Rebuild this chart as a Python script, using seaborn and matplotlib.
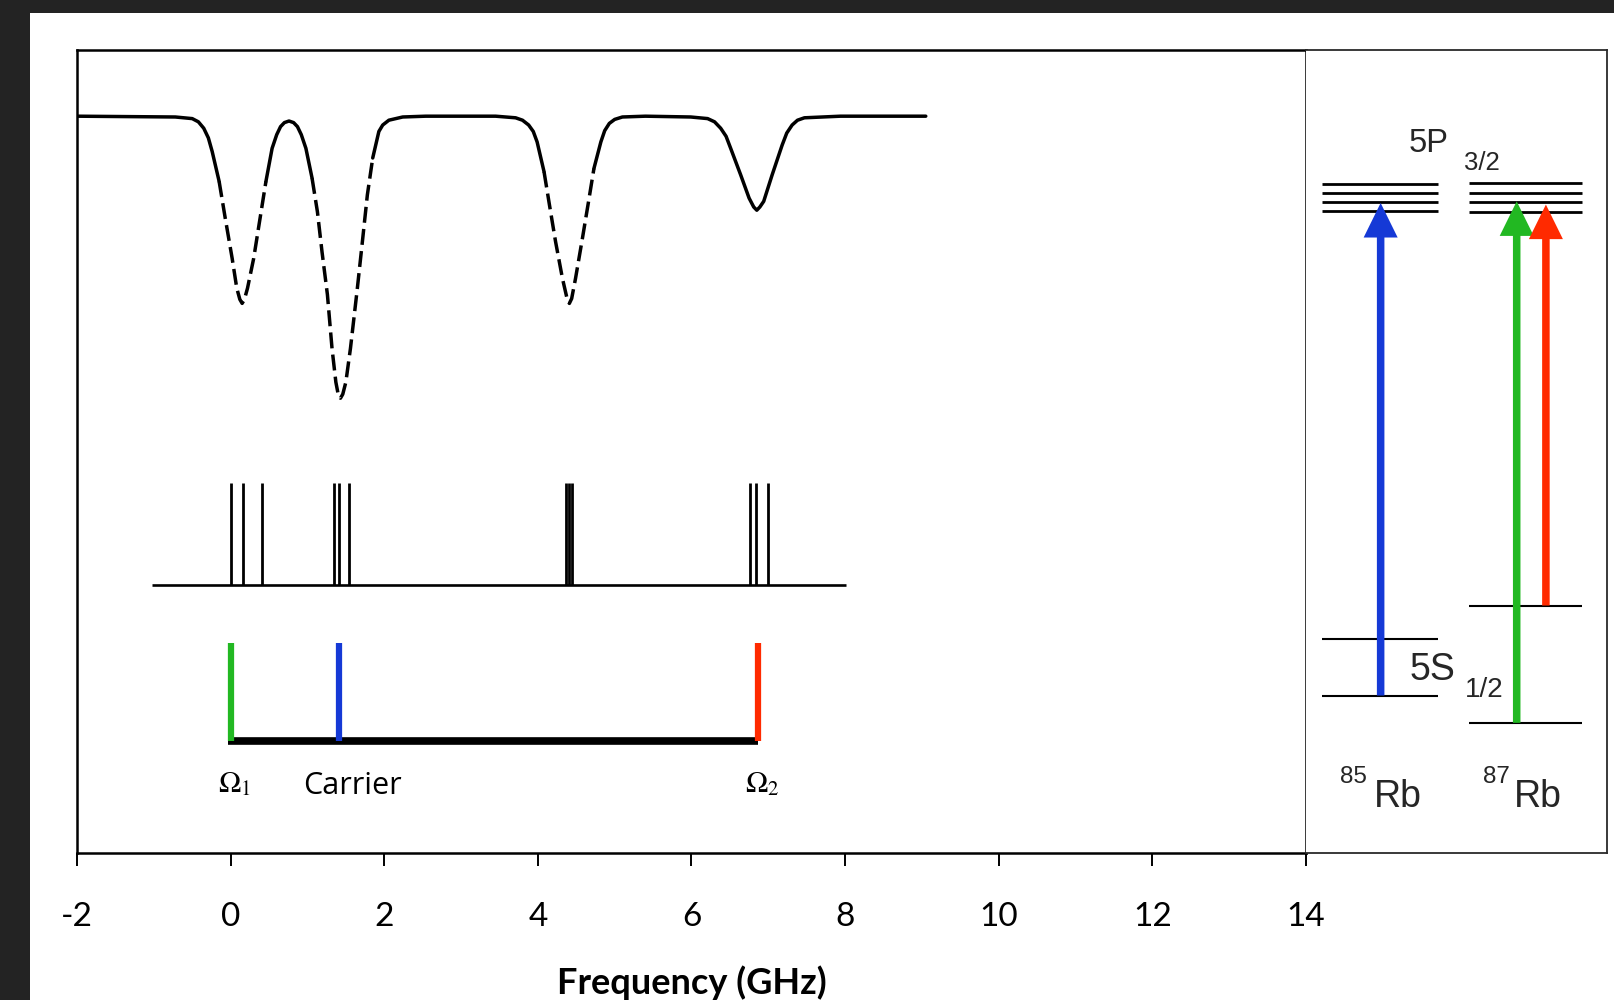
import numpy as np
import pandas as pd
import matplotlib
matplotlib.use("Agg")
import matplotlib.pyplot as plt
from matplotlib.patches import Rectangle
import seaborn as sns

# ---------------- data ----------------
# absorption spectrum: frequency (GHz) and transmission (arb. units)
spec_freq = [-2.00, -0.72, -0.50, -0.42, -0.35, -0.29, -0.24, -0.15, -0.07, 0.02,
             0.08, 0.12, 0.15, 0.18, 0.22, 0.30, 0.39, 0.46, 0.54, 0.60,
             0.65, 0.70, 0.76, 0.82, 0.87, 0.92, 0.98, 1.06, 1.13, 1.19,
             1.26, 1.32, 1.37, 1.40, 1.43, 1.46, 1.50, 1.56, 1.65, 1.72,
             1.78, 1.85, 1.93, 1.98, 2.06, 2.24, 2.54,
             3.45, 3.71, 3.80, 3.88, 3.94, 3.99, 4.08, 4.15, 4.23, 4.32,
             4.38, 4.41, 4.44, 4.49, 4.58, 4.66, 4.73, 4.82, 4.87, 4.93,
             5.00, 5.10, 5.40,
             5.99, 6.21, 6.30, 6.38, 6.45, 6.51, 6.64, 6.75, 6.81, 6.85,
             6.89, 6.94, 7.05, 7.18, 7.24, 7.31, 7.38, 7.47, 7.94, 9.05]
spec_trans = [91.7, 91.6, 91.4, 91.0, 90.2, 89.0, 87.3, 83.6, 79.0, 74.0,
              70.3, 68.9, 68.4, 68.9, 70.3, 74.0, 79.4, 83.6, 87.7, 89.4,
              90.4, 90.9, 91.1, 90.9, 90.4, 89.4, 87.7, 84.0, 79.8, 74.8,
              69.5, 62.8, 58.6, 57.1, 56.6, 57.1, 58.6, 62.8, 70.3, 76.5,
              81.9, 86.5, 89.8, 90.6, 91.2, 91.6, 91.7,
              91.7, 91.5, 91.2, 90.6, 89.8, 88.5, 84.8, 80.7, 76.1, 71.5,
              69.0, 68.4, 69.0, 71.5, 76.5, 81.1, 85.2, 88.5, 89.9, 90.8,
              91.3, 91.6, 91.7,
              91.6, 91.4, 91.0, 90.2, 89.2, 87.7, 84.4, 81.5, 80.4, 80.0,
              80.4, 81.1, 84.4, 88.1, 89.6, 90.6, 91.2, 91.5, 91.7, 91.7]
dash_below = 86.6          # dashed where the line dips below this level
dash_max_freq = 5.5        # ... for the first three dips only

# hyperfine stick spectrum (GHz)
stick_freq = [0.00, 0.16, 0.41, 1.35, 1.41, 1.54, 4.37, 4.40, 4.45, 6.76, 6.84, 6.99]
stick_base, stick_top = 33.35, 46.0
stick_span = (-1.02, 8.01)

# modulation: Omega1, carrier, Omega2
mod_freq = [0.00, 1.41, 6.86]
mod_labels = [r"$\Omega_1$", "Carrier", r"$\Omega_2$"]
mod_label_freq = [0.05, 1.585, 6.92]
mod_colors = ["#22b822", "#1539d6", "#ff2a00"]
mod_bar_y, mod_top_y = 13.9, 26.1

# energy level diagram (right panel, arbitrary units)
lvl85_upper = [83.2, 82.1, 81.0, 79.9]
lvl87_upper = [83.4, 82.1, 81.0, 79.8]
lvl85_ground = [26.6, 19.6]
lvl87_ground = [30.8, 16.2]
lvl85_x = (5.3, 43.9)
lvl87_x = (54.2, 91.7)
arrow_x = [24.8, 70.0, 79.7]
arrow_from = [19.6, 16.2, 30.8]
arrow_to = [80.9, 81.1, 80.7]
arrow_colors = ["#1539d6", "#22b822", "#ff2a00"]

# ---------------- style ----------------
sns.set_theme(style="white")
plt.rcParams["font.family"] = ["Lato", "DejaVu Sans"]
plt.rcParams["axes.unicode_minus"] = False

fig = plt.figure(figsize=(16.15, 10), dpi=100)
fig.patch.set_facecolor("white")

# dark frame strips (top and left) of the screenshot
fig.add_artist(Rectangle((0, 1 - 13 / 1000), 1, 13 / 1000, transform=fig.transFigure,
                         facecolor="#232323", edgecolor="none", zorder=0))
fig.add_artist(Rectangle((0, 0), 30 / 1615, 1, transform=fig.transFigure,
                         facecolor="#232323", edgecolor="none", zorder=0))

ax = fig.add_axes([77 / 1615, 0.147, (1306 - 77) / 1615, 0.8035])
ax2 = fig.add_axes([1306 / 1615, 0.147, (1607 - 1306) / 1615, 0.8035])

# ---------------- spectrum curve (solid / dashed segments) ----------------
f = np.asarray(spec_freq)
t = np.asarray(spec_trans)
deep = (t < dash_below) & (f < dash_max_freq)
rows = []
seg = -1
prev_kind = None
for i in range(len(f) - 1):
    kind = "dashed" if (deep[i] and deep[i + 1]) else "solid"
    if kind != prev_kind:
        seg += 1
        rows.append((seg, kind, i, f[i], t[i]))
        prev_kind = kind
    rows.append((seg, kind, i + 1, f[i + 1], t[i + 1]))
df = pd.DataFrame(rows, columns=["seg", "kind", "order", "freq", "trans"])

sns.lineplot(data=df, x="freq", y="trans", units="seg", estimator=None,
             style="kind", dashes={"solid": "", "dashed": (4.6, 1.8)},
             color="black", linewidth=2.5, sort=False, legend=False, ax=ax)
for ln in ax.get_lines():
    ln.set_solid_joinstyle("round")
    ln.set_dash_joinstyle("round")

# ---------------- stick spectrum ----------------
ax.hlines(stick_base, stick_span[0], stick_span[1], color="black", lw=1.9)
ax.vlines(stick_freq, stick_base, stick_top, color="black", lw=2.0)

# ---------------- carrier & sidebands ----------------
ax.hlines(mod_bar_y, mod_freq[0] - 0.03, mod_freq[-1] + 0.01, color="black", lw=5.5, zorder=3)
ax.vlines(mod_freq, mod_bar_y, mod_top_y, colors=mod_colors, lw=4.5, zorder=4)
for lab, xf in zip(mod_labels, mod_label_freq):
    if lab.startswith("$"):
        ax.text(xf, 7.6, lab, ha="center", va="baseline", fontsize=21.5,
                math_fontfamily="stix", color="black")
    else:
        ax.text(xf, 7.3, lab, ha="center", va="baseline", fontsize=22,
                family=["Open Sans", "DejaVu Sans"], color="black")

# ---------------- main axes cosmetics ----------------
ax.set_xlim(-2, 14)
ax.set_ylim(0, 100)
ax.set_xticks(range(-2, 15, 2))
ax.set_yticks([])
ax.set_ylabel("")
ax.tick_params(axis="x", direction="out", length=9, width=1.4, pad=26,
               labelsize=24, colors="black", bottom=True)
for lbl in ax.get_xticklabels():
    lbl.set_family(["Lato", "DejaVu Sans"])
ax.set_xlabel("Frequency (GHz)", fontsize=26, fontweight="bold",
              family=["Lato", "DejaVu Sans"], labelpad=24, color="black")
for s in ax.spines.values():
    s.set_visible(True)
    s.set_color("black")
    s.set_linewidth(1.8)

# ---------------- energy-level panel ----------------
ax2.set_xlim(0, 100)
ax2.set_ylim(0, 100)
ax2.set_xticks([])
ax2.set_yticks([])
for name, s in ax2.spines.items():
    s.set_visible(name != "left")
    s.set_color("#2a2a2a")
    s.set_linewidth(1.3)

ax2.hlines(lvl85_upper, *lvl85_x, color="black", lw=2.0)
ax2.hlines(lvl87_upper, *lvl87_x, color="black", lw=2.0)
ax2.hlines(lvl85_ground, *lvl85_x, color="black", lw=1.5)
ax2.hlines(lvl87_ground, *lvl87_x, color="black", lw=1.5)
for xa, y0, y1, c in zip(arrow_x, arrow_from, arrow_to, arrow_colors):
    ax2.arrow(xa, y0, 0, y1 - y0, width=2.5, head_width=11.3, head_length=4.3,
              length_includes_head=True, color=c, lw=0, zorder=3)

lvl_font = ["Liberation Sans", "DejaVu Sans"]
ax2.text(40.9, 87.3, "5P", ha="center", va="baseline", fontsize=23.5, family=lvl_font)
ax2.text(58.4, 85.0, "3/2", ha="center", va="baseline", fontsize=18.5, family=lvl_font)
ax2.text(42.0, 21.5, "5S", ha="center", va="baseline", fontsize=27, family=lvl_font)
ax2.text(59.3, 19.45, "1/2", ha="center", va="baseline", fontsize=20, family=lvl_font)
ax2.text(15.9, 8.66, "85", ha="center", va="baseline", fontsize=17.5, family=lvl_font)
ax2.text(30.4, 5.75, "Rb", ha="center", va="baseline", fontsize=27, family=lvl_font)
ax2.text(63.2, 8.66, "87", ha="center", va="baseline", fontsize=17.5, family=lvl_font)
ax2.text(77.2, 5.75, "Rb", ha="center", va="baseline", fontsize=27, family=lvl_font)

fig.savefig("out.png", dpi=100, facecolor="white")
